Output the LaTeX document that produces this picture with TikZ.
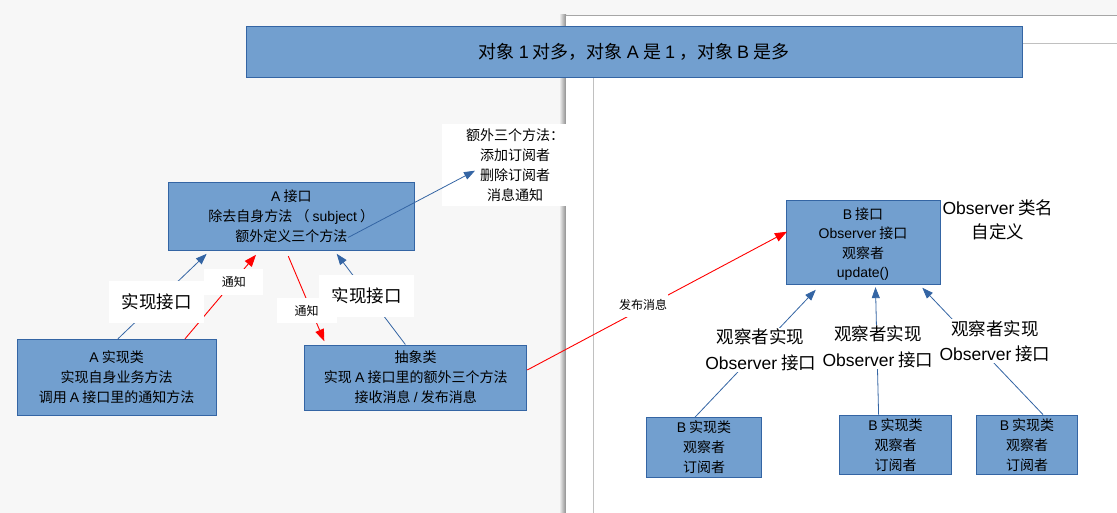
\documentclass[tikz,border=0pt]{standalone}
\usepackage{fontspec}
\setmainfont{Noto Sans CJK SC}
\newfontfamily\latfont{Liberation Sans}
\newcommand\latw[1]{{\latfont #1}}
\usetikzlibrary{arrows.meta}
\definecolor{boxfill}{HTML}{729FCF}
\definecolor{bdr}{HTML}{3465A4}
\definecolor{bg}{HTML}{F7F7F7}
\definecolor{margin}{HTML}{C0C0C0}
\definecolor{ared}{HTML}{FF0000}
\tikzset{
  umlbox/.style={draw=bdr, fill=boxfill, line width=0.9pt, align=center, inner sep=0pt, text=black},
  whitelbl/.style={fill=white, align=center, inner sep=0pt, text=black},
  bluearr/.style={draw=bdr, line width=0.8pt, -{Triangle[length=11pt,width=8pt]}},
  redarr/.style={draw=ared, line width=0.9pt, -{Triangle[length=12pt,width=9pt]}},
  f14/.style={font=\fontsize{14}{20}\selectfont},
  f12/.style={font=\fontsize{12}{15}\selectfont},
  f17/.style={font=\fontsize{17.5}{25.5}\selectfont},
}
\begin{document}
\begin{tikzpicture}[x=1pt,y=-1pt]
\useasboundingbox (0,0) rectangle (1117,513);
\fill[bg] (0,0) rectangle (1117,513);
% page
\shade[left color=bg, right color=black!45] (559,15) rectangle (566,513);
\fill[white] (566,15) rectangle (1117,513);
\draw[black!35, line width=0.8pt] (566,15.3) -- (1117,15.3);
\draw[margin, line width=0.9pt] (593.4,43.3) -- (1117,43.3);
\draw[margin, line width=0.9pt] (593.4,43.3) -- (593.4,513);

% banner
\node[umlbox, minimum width=776pt, minimum height=51.3pt, font=\fontsize{18}{20}\selectfont] (title) at (634,51.7)
  {对象 \latw{1} 对多，对象 \latw{A} 是 \latw{1} ，对象 \latw{B} 是多};

% extra methods text box
\node[fill=white, inner sep=0pt, minimum width=124pt, minimum height=82pt] (extrabox) at (504,165) {};
\node[align=center, inner sep=0pt, f14] (extra) at (515,165.5)
  {额外三个方法：\\添加订阅者\\删除订阅者\\消息通知};

% A side boxes
\node[umlbox, f14, minimum width=246pt, minimum height=67.3pt] (aif) at (291.3,216.4)
  {\latw{A} 接口\\除去自身方法 （ \latw{subject} ）\\额外定义三个方法};
\node[umlbox, f14, minimum width=199pt, minimum height=76.4pt] (aimpl) at (116.6,377.5)
  {\latw{A} 实现类\\实现自身业务方法\\调用 \latw{A} 接口里的通知方法};
\node[umlbox, f14, minimum width=222.2pt, minimum height=65pt] (abs) at (415.7,377.5)
  {抽象类\\实现 \latw{A} 接口里的额外三个方法\\接收消息 \latw{/} 发布消息};

% B side boxes
\node[umlbox, minimum width=154pt, minimum height=84pt, font=\fontsize{14}{19.5}\selectfont] (bif) at (863,242)
  {\rule{0pt}{16pt}\latw{B} 接口\\\latw{Observer} 接口\\观察者\\\latw{update()}};
\node[umlbox, f14, minimum width=115.5pt, minimum height=59.3pt] (b1) at (704,447.3)
  {\latw{B} 实现类\\观察者\\订阅者};
\node[umlbox, f14, minimum width=112.6pt, minimum height=59.3pt] (b2) at (895.5,444.7)
  {\latw{B} 实现类\\观察者\\订阅者};
\node[umlbox, f14, minimum width=101.3pt, minimum height=59.3pt] (b3) at (1027,444.7)
  {\latw{B} 实现类\\观察者\\订阅者};
\node[align=center, inner sep=0pt, font=\fontsize{17.5}{24}\selectfont] (obsname) at (998,219.5)
  {\latw{Observer} 类名\\自定义};

% connectors A side
\draw[bluearr] ([xshift=1.3pt]aimpl.north) -- ([xshift=-84.6pt,yshift=-3.3pt]aif.south);
\draw[redarr] ([xshift=68.4pt]aimpl.north) -- ([xshift=-35.3pt,yshift=-4.3pt]aif.south);
\draw[redarr] ([xshift=-3pt,yshift=-5.7pt]aif.south) -- ([xshift=-91.4pt,yshift=3.3pt]abs.north);
\draw[bluearr] ([xshift=-10.3pt]abs.north) -- ([xshift=45.4pt,yshift=-3.3pt]aif.south);
\draw[bluearr] ([xshift=57pt,yshift=-21pt]aif.center) -- ([xshift=-40pt,yshift=-5.2pt]extra.center);
\draw[redarr] ([yshift=7.5pt]abs.east) -- ([xshift=1.4pt,yshift=10.3pt]bif.west);

% connectors B side
\draw[bluearr] ([xshift=-9pt]b1.north) -- ([xshift=-47.2pt,yshift=-5.3pt]bif.south);
\draw[bluearr] ([xshift=-16.9pt]b2.north) -- ([xshift=12.5pt,yshift=-2.7pt]bif.south);
\draw[bluearr] ([xshift=16pt]b3.north) -- ([xshift=59.3pt,yshift=-3.3pt]bif.south);

% labels on top of connectors
\node[whitelbl, f17, minimum width=95.3pt, minimum height=42.6pt] (impl1) at (156.7,302) {实现接口};
\node[whitelbl, f17, minimum width=95.3pt, minimum height=42.3pt] (impl2) at (366.7,296.2) {实现接口};
\node[whitelbl, f12, minimum width=59pt, minimum height=25.7pt] (notify1) at (233.8,282.2) {通知};
\node[whitelbl, f12, minimum width=60pt, minimum height=25.6pt] (notify2) at (306.7,310.5) {通知};
\node[whitelbl, f12, minimum width=50pt, minimum height=23pt] (publish) at (643,305) {发布消息};
\node[whitelbl, f17, inner sep=1pt] (o1) at (760.7,350) {观察者实现\\\latw{Observer} 接口};
\node[whitelbl, f17, inner sep=1pt] (o2) at (878,347) {观察者实现\\\latw{Observer} 接口};
\node[whitelbl, f17, inner sep=1pt] (o3) at (995,341.3) {观察者实现\\\latw{Observer} 接口};
\end{tikzpicture}
\end{document}
